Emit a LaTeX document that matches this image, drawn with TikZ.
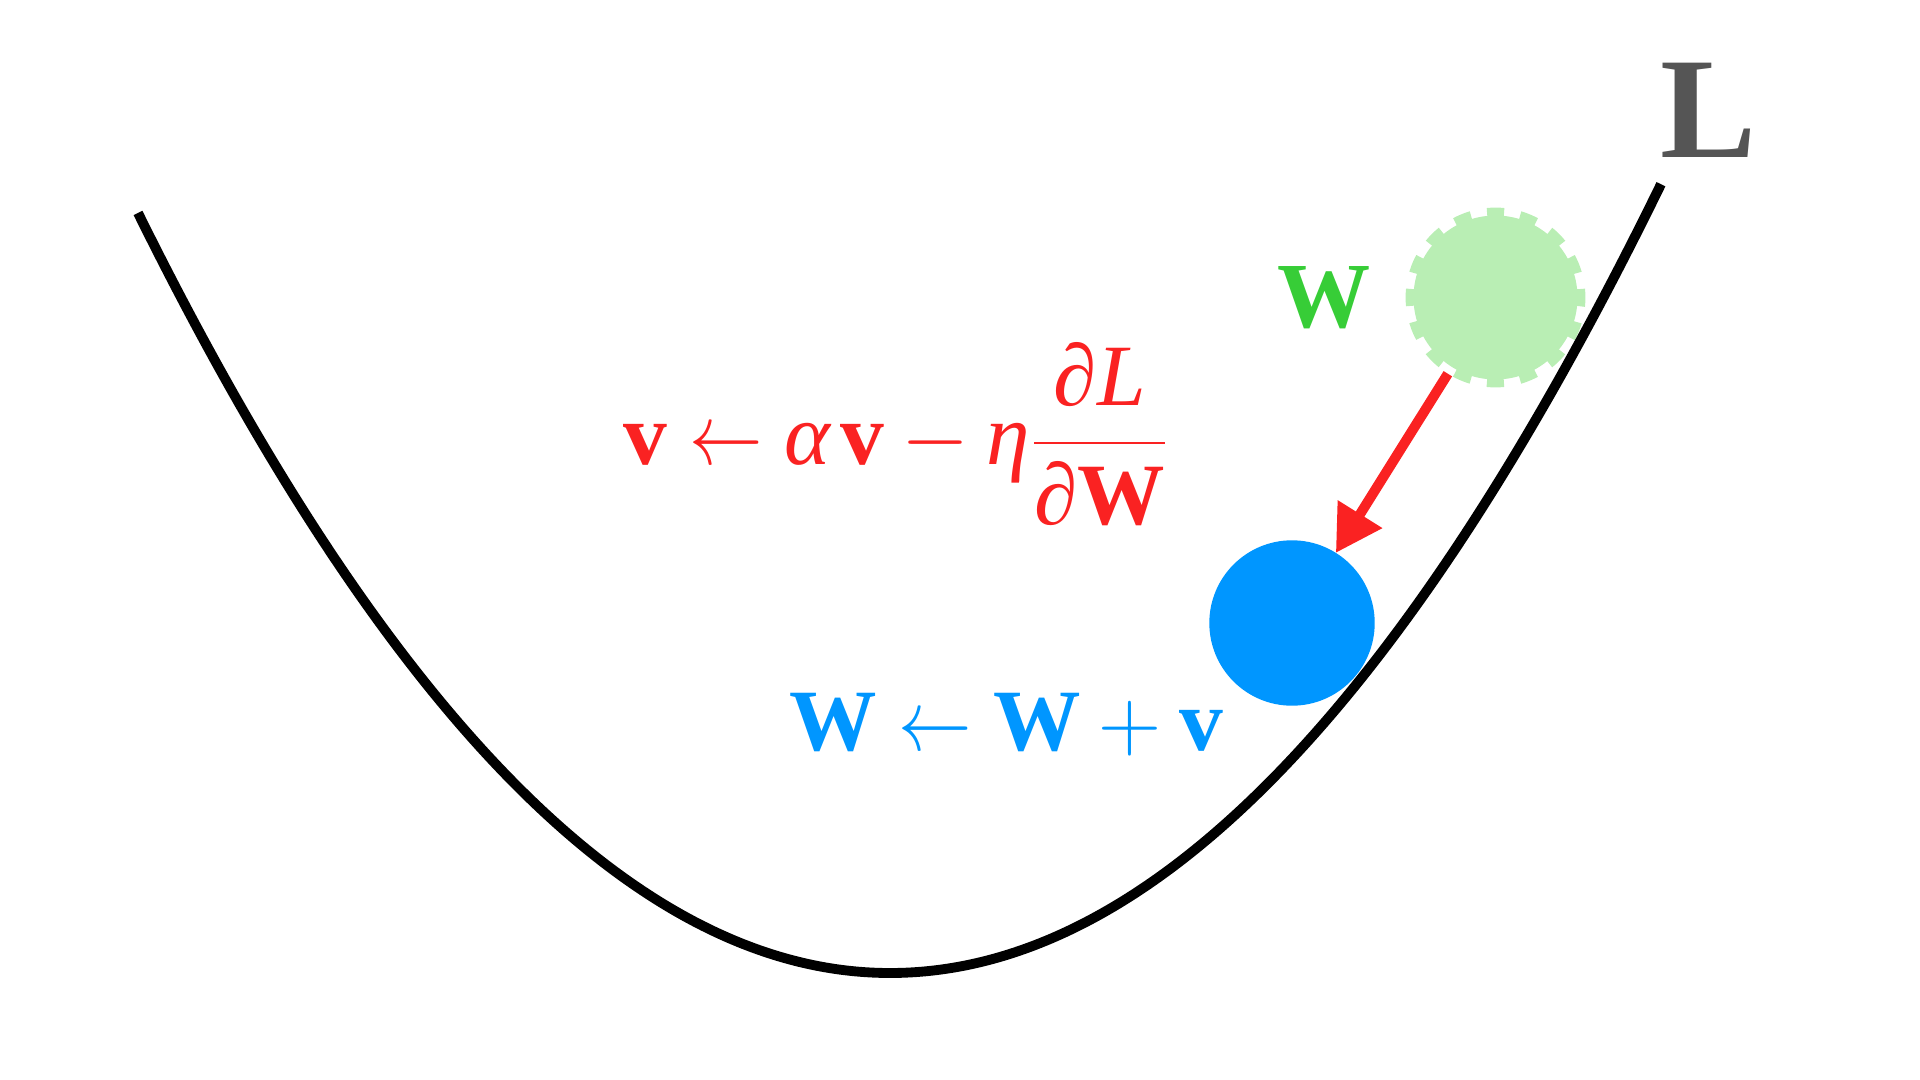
\documentclass[tikz,border=0pt]{standalone}
\usepackage{fontspec}
\usepackage{graphicx}
\setmainfont{Liberation Serif}
\usetikzlibrary{arrows.meta}
\definecolor{lossgray}{RGB}{85,85,85}
\definecolor{wgreen}{RGB}{55,205,55}
\definecolor{ballgreen}{RGB}{185,238,180}
\definecolor{gradred}{RGB}{250,34,34}
\definecolor{wblue}{RGB}{0,150,255}
\newcommand{\shortla}{\mathrel{\scalebox{0.84}[1]{$\leftarrow$}}}
\newcommand{\tightmath}{\thickmuskip=4.5mu plus 1mu\relax\medmuskip=3.6mu plus 1mu\relax}
\tikzset{
  losscurve/.style={line width=2.8pt, black},
  oldpos/.style={circle, minimum size=1.64cm, inner sep=0pt, outer sep=2.25pt,
    fill=ballgreen, draw=ballgreen, line width=4.5pt,
    dash pattern=on 4.7pt off 4.46pt, dash phase=2.35pt},
  newpos/.style={circle, minimum size=1.654cm, inner sep=0pt, outer sep=0pt, fill=wblue},
  update/.style={line width=2.85pt, gradred, -{Triangle[length=13pt,width=14.2pt]}},
  eq/.style={font=\fontsize{24.88}{30}\selectfont, anchor=base, inner sep=0pt},
  biglabel/.style={anchor=base, inner sep=0pt},
}
\begin{document}
\begin{tikzpicture}
\useasboundingbox (0,0) rectangle (19.2,-10.8);
\node[oldpos] (wold) at (14.955,-2.975) {};
\draw[losscurve] plot[domain=1.38:8.9, samples=150] (\x, {-9.73+0.1344*(\x-8.9)^2})
  -- plot[domain=8.9:16.61, samples=150] (\x, {-9.73+0.1327*(\x-8.9)^2});
\node[newpos] (wnew) at (12.92,-6.23) {};
\draw[update] (wold) -- (wnew);
\node[eq, text=gradred] (veq) at (8.965,-4.65)
  {$\tightmath\displaystyle\mbox{\bfseries v}\shortla\mbox{\itshape α}\mkern2mu\mbox{\bfseries v}-\mbox{\itshape η}\frac{\mbox{\itshape ∂L}}{\mbox{\itshape ∂}\mbox{\bfseries W}}$};
\node[eq, text=wblue] (weq) at (10.06,-7.506)
  {$\tightmath\mbox{\bfseries W}\shortla\mbox{\bfseries W}+\mbox{\bfseries v}$};
\node[biglabel, text=wgreen, font=\fontsize{26.5}{30}\selectfont\bfseries] (wlab) at (13.245,-3.28) {W};
\node[biglabel, text=lossgray, font=\fontsize{41}{48}\selectfont\bfseries] (loss) at (17.09,-1.58) {L};
\end{tikzpicture}
\end{document}
